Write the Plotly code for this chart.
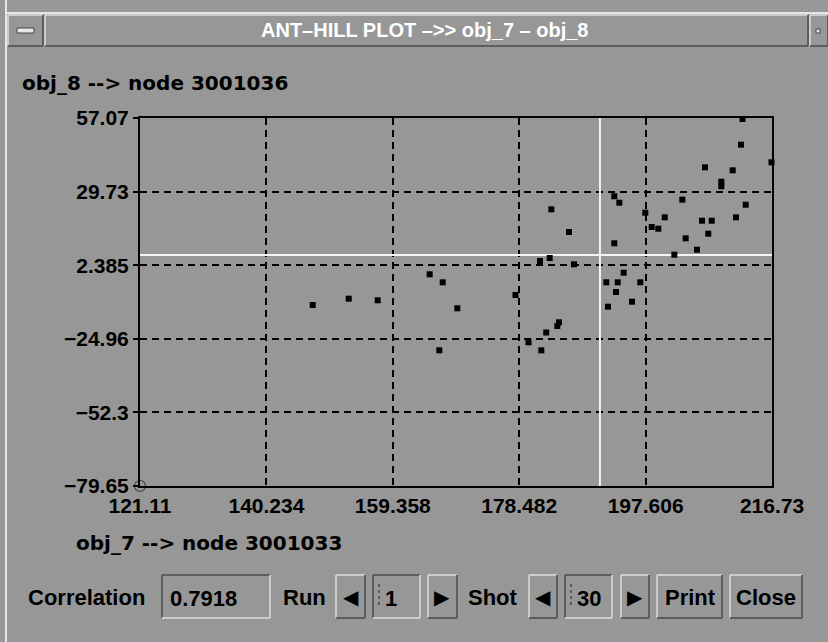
import plotly.graph_objects as go

# ---------------- data ----------------
X_VALUES = [147.24, 152.69, 157.07, 164.94, 166.91, 169.12, 166.39,
            177.92, 179.89, 181.83, 182.57, 184.25, 184.50, 181.63, 183.10,
            186.77, 183.34, 186.02, 192.87, 193.63, 192.87, 191.66, 193.39,
            194.29, 193.13, 191.92, 195.55, 196.80, 197.56, 198.53, 199.53,
            200.50, 201.95, 203.16, 203.67, 205.38, 206.14, 207.09, 207.61,
            206.59, 209.06, 209.06, 210.78, 212.75, 211.28, 212.04, 212.27,
            216.65]
Y_VALUES = [-12.40, -10.06, -10.66, -1.00, -3.97, -13.63, -29.24,
            -8.69, -26.26, -29.24, -22.62, -20.21, -18.83, 3.94, 5.06,
            2.72, 23.15, 14.72, 27.98, 25.60, 10.52, -3.97, -3.97,
            -0.40, -7.57, -13.04, -11.18, -3.97, 21.89, 16.57, 15.94,
            20.18, 6.28, 26.72, 12.38, 8.14, 18.91, 14.08, 18.91,
            38.75, 33.40, 31.70, 37.64, 24.86, 20.18, 47.15, 56.70,
            40.61]
X_MEAN = 190.7
Y_MEAN = 6.17
X_TICKS = ["121.11", "140.234", "159.358", "178.482", "197.606", "216.73"]
Y_TICKS = ["57.07", "29.73", "2.385", "\u221224.96", "\u221252.3", "\u221279.65"]
CORRELATION = "0.7918"
RUN = "1"
SHOT = "30"
TITLE = "ANT\u2013HILL PLOT \u2013>> obj_7 \u2013 obj_8"
Y_LABEL = "obj_8 --> node 3001036"
X_LABEL = "obj_7 --> node 3001033"

# ---------------- style ----------------
W, H = 828, 642
BG = "#979797"
LIGHT = "#dcdcdc"
DARK = "#4a4a4a"
TICKFONT = dict(family="Liberation Sans, Arial, sans-serif", size=21, color="#000", weight="bold")
LABELFONT = dict(family="DejaVu Sans, sans-serif", size=20, color="#000", weight="bold")
UIFONT = dict(family="Liberation Sans, Arial, sans-serif", size=22, color="#000", weight="bold")

def px(x):
    return x / W

def py(y):
    return 1 - y / H

xv = [float(t.replace("\u2212", "-")) for t in X_TICKS]
yv = [float(t.replace("\u2212", "-")) for t in Y_TICKS]
x_min, x_max = min(xv), max(xv)
y_min, y_max = min(yv), max(yv)

fig = go.Figure()

fig.add_trace(go.Scatter(
    x=X_VALUES, y=Y_VALUES, mode="markers",
    marker=dict(symbol="square", size=6, color="#000", line=dict(width=0)),
    cliponaxis=False, hoverinfo="skip", showlegend=False))

# origin marker
fig.add_trace(go.Scatter(
    x=[x_min], y=[y_min], mode="markers",
    marker=dict(symbol="circle-open", size=11, color="#444", line=dict(width=1.2)),
    cliponaxis=False, hoverinfo="skip", showlegend=False))

shapes = []
# mean lines (white)
shapes.append(dict(type="line", xref="x", yref="y", x0=x_min, x1=x_max, y0=Y_MEAN, y1=Y_MEAN,
                   line=dict(color="#f4f4f4", width=2), layer="between"))
shapes.append(dict(type="line", xref="x", yref="y", x0=X_MEAN, x1=X_MEAN, y0=y_min, y1=y_max,
                   line=dict(color="#f4f4f4", width=2), layer="between"))

def hline(x0, x1, y, color, w=1.5):
    shapes.append(dict(type="line", xref="paper", yref="paper", x0=px(x0), x1=px(x1),
                       y0=py(y), y1=py(y), line=dict(color=color, width=w), layer="above"))

def vline(x, y0, y1, color, w=1.5, dash=None):
    ln = dict(color=color, width=w)
    if dash:
        ln["dash"] = dash
    shapes.append(dict(type="line", xref="paper", yref="paper", x0=px(x), x1=px(x),
                       y0=py(y0), y1=py(y1), line=ln, layer="above"))

def bevel(x0, y0, x1, y1, sunken=False):
    tl, br = (DARK, LIGHT) if sunken else (LIGHT, DARK)
    hline(x0, x1, y0, tl)
    vline(x0, y0, y1, tl)
    hline(x0, x1, y1, br)
    vline(x1, y0, y1, br)

# window frame and title bar
vline(6, 0, H, "#e6e6e6", 2)
hline(6, W, 13, "#e6e6e6", 2)
bevel(8, 15, 43, 46)
bevel(45, 15, 808, 46)
bevel(810, 15, 828, 46)
shapes.append(dict(type="rect", xref="paper", yref="paper", x0=px(17), x1=px(34),
                   y0=py(28), y1=py(33), fillcolor="#e8e8e8", line=dict(color="#444", width=1),
                   layer="above"))
shapes.append(dict(type="rect", xref="paper", yref="paper", x0=px(816), x1=px(820),
                   y0=py(29), y1=py(33), fillcolor="#e8e8e8", line=dict(color="#444", width=1),
                   layer="above"))

# bottom control boxes
bevel(162, 575, 270, 618, sunken=True)
bevel(336, 575, 365, 618)
bevel(373, 575, 420, 618, sunken=True)
bevel(428, 575, 457, 618)
bevel(529, 575, 557, 618)
bevel(565, 575, 612, 618, sunken=True)
bevel(621, 575, 649, 618)
bevel(657, 575, 722, 618)
bevel(730, 575, 802, 618)
vline(379, 584, 608, "#222", 1, dash="dot")
vline(571, 584, 608, "#222", 1, dash="dot")

ann = []

def text(x, y, s, font, xanchor="left"):
    ann.append(dict(x=px(x), y=py(y), xref="paper", yref="paper", text=s, showarrow=False,
                    xanchor=xanchor, yanchor="middle", font=font))

text(425, 30, TITLE, dict(family="Liberation Sans, Arial, sans-serif", size=20,
                          color="#ffffff", weight="bold"), "center")
text(20, 83, Y_LABEL, LABELFONT)
text(74, 543, X_LABEL, LABELFONT)
text(26, 597, "Correlation", UIFONT)
text(168, 598, CORRELATION, UIFONT)
text(281, 597, "Run", UIFONT)
text(351, 597, "\u25c0", dict(family="DejaVu Sans", size=20, color="#000"), "center")
text(383, 598, RUN, UIFONT)
text(442, 597, "\u25b6", dict(family="DejaVu Sans", size=20, color="#000"), "center")
text(466, 597, "Shot", UIFONT)
text(543, 597, "\u25c0", dict(family="DejaVu Sans", size=20, color="#000"), "center")
text(575, 598, SHOT, UIFONT)
text(635, 597, "\u25b6", dict(family="DejaVu Sans", size=20, color="#000"), "center")
text(690, 597, "Print", UIFONT, "center")
text(766, 597, "Close", UIFONT, "center")

fig.update_layout(
    width=W, height=H, margin=dict(l=0, r=0, t=0, b=0, pad=0, autoexpand=False),
    paper_bgcolor=BG, plot_bgcolor=BG,
    shapes=shapes, annotations=ann, showlegend=False,
    xaxis=dict(domain=[px(140), px(772)], range=[x_min, x_max], tickvals=xv, ticktext=X_TICKS,
               showgrid=True, gridcolor="#000", gridwidth=1.5, griddash="7px,5px",
               showline=True, linecolor="#000", linewidth=2, mirror=True, automargin=False,
               ticks="", tickfont=TICKFONT, zeroline=False, fixedrange=True),
    yaxis=dict(domain=[py(486), py(118)], range=[y_min, y_max], tickvals=yv, ticktext=Y_TICKS,
               showgrid=True, gridcolor="#000", gridwidth=1.5, griddash="7px,5px",
               showline=True, linecolor="#000", linewidth=2, mirror=True, automargin=False,
               ticks="outside", ticklen=5, tickwidth=1.5, tickcolor="#000",
               tickfont=TICKFONT, zeroline=False, fixedrange=True),
)

fig.write_html("out.html", config={"displayModeBar": False},
               post_script="document.body.style.margin='0';document.body.style.background='%s';" % BG)
